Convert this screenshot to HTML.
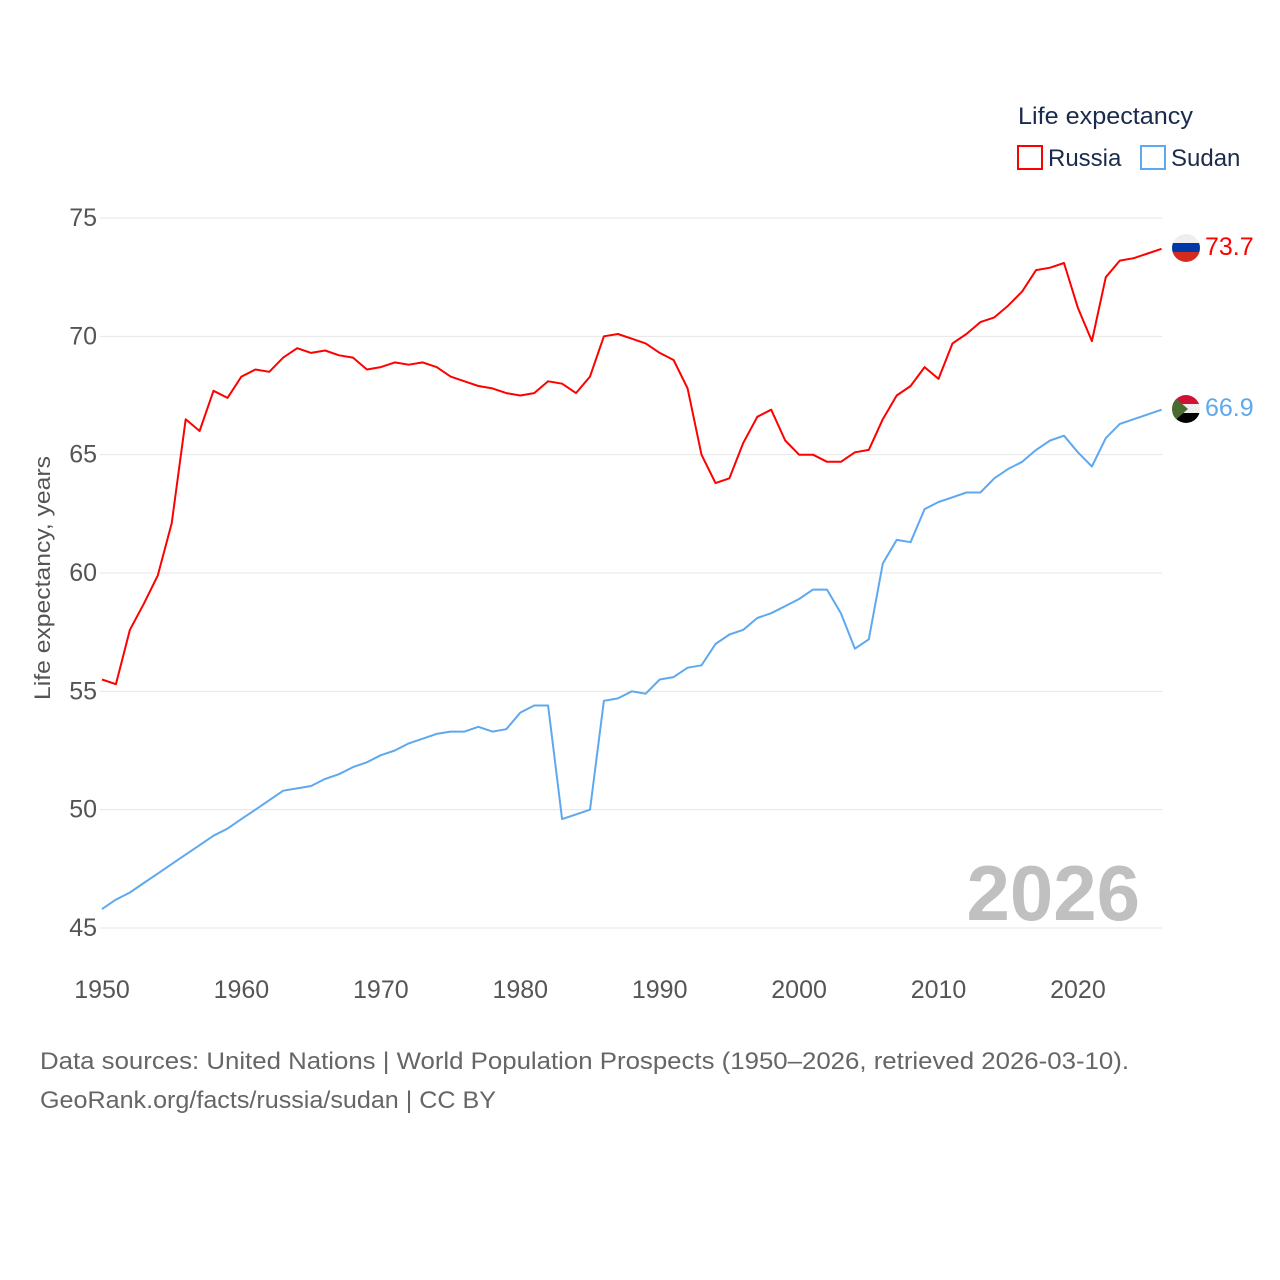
<!DOCTYPE html>
<html><head><meta charset="utf-8">
<style>
body{margin:0;background:#fff;}
svg{display:block;font-family:"Liberation Sans",sans-serif;}
</style></head>
<body>
<svg id="chart" width="1280" height="1280" viewBox="0 0 1280 1280">
<defs>
<clipPath id="cr"><circle cx="1186" cy="248" r="14"/></clipPath>
<clipPath id="cs"><circle cx="1186" cy="409" r="14"/></clipPath>
</defs>
<g id="grid"></g>
<g id="yticks"></g>
<g id="xticks"></g>
<text transform="translate(50,578) rotate(-90)" text-anchor="middle" font-size="22" fill="#555" textLength="244" lengthAdjust="spacingAndGlyphs">Life expectancy, years</text>
<text x="1140" y="920" text-anchor="end" font-size="78" font-weight="bold" fill="#c0c0c0">2026</text>
<g id="series"></g>
<g>
<text x="1018" y="124" font-size="24" fill="#1a2b4c" textLength="175" lengthAdjust="spacingAndGlyphs">Life expectancy</text>
<rect x="1018" y="146" width="24" height="23" fill="none" stroke="#ff0000" stroke-width="2"/>
<text x="1048" y="166" font-size="24" fill="#1a2b4c">Russia</text>
<rect x="1141" y="146" width="24" height="23" fill="none" stroke="#5ea8f0" stroke-width="2"/>
<text x="1171" y="166" font-size="24" fill="#1a2b4c">Sudan</text>
</g>
<g clip-path="url(#cr)">
<rect x="1172" y="234" width="28" height="10" fill="#eee"/><rect x="1172" y="243" width="28" height="10" fill="#0039a6"/><rect x="1172" y="252" width="28" height="10" fill="#d52b1e"/>
</g>
<g clip-path="url(#cs)">
<rect x="1172" y="395" width="28" height="10" fill="#d21034"/><rect x="1172" y="404" width="28" height="10" fill="#eee"/><rect x="1172" y="413" width="28" height="10" fill="#000"/><polygon points="1172,395 1188,409 1172,423" fill="#4a6b2f"/>
</g>
<text x="1205" y="255" font-size="25" fill="#ff0000">73.7</text>
<text x="1205" y="416" font-size="25" fill="#5ea8f0">66.9</text>
<text x="40" y="1069" font-size="24" fill="#666" textLength="1089" lengthAdjust="spacingAndGlyphs">Data sources: United Nations | World Population Prospects (1950–2026, retrieved 2026-03-10).</text>
<text x="40" y="1108" font-size="24" fill="#666" textLength="456" lengthAdjust="spacingAndGlyphs">GeoRank.org/facts/russia/sudan | CC BY</text>
</svg>
<script>
const years = [];
for (let y = 1950; y <= 2026; y++) years.push(y);
const russia = [55.5,55.3,57.6,58.7,59.9,62.1,66.5,66.0,67.7,67.4,68.3,68.6,68.5,69.1,69.5,69.3,69.4,69.2,69.1,68.6,68.7,68.9,68.8,68.9,68.7,68.3,68.1,67.9,67.8,67.6,67.5,67.6,68.1,68.0,67.6,68.3,70.0,70.1,69.9,69.7,69.3,69.0,67.8,65.0,63.8,64.0,65.5,66.6,66.9,65.6,65.0,65.0,64.7,64.7,65.1,65.2,66.5,67.5,67.9,68.7,68.2,69.7,70.1,70.6,70.8,71.3,71.9,72.8,72.9,73.1,71.2,69.8,72.5,73.2,73.3,73.5,73.7];
const sudan = [45.8,46.2,46.5,46.9,47.3,47.7,48.1,48.5,48.9,49.2,49.6,50.0,50.4,50.8,50.9,51.0,51.3,51.5,51.8,52.0,52.3,52.5,52.8,53.0,53.2,53.3,53.3,53.5,53.3,53.4,54.1,54.4,54.4,49.6,49.8,50.0,54.6,54.7,55.0,54.9,55.5,55.6,56.0,56.1,57.0,57.4,57.6,58.1,58.3,58.6,58.9,59.3,59.3,58.3,56.8,57.2,60.4,61.4,61.3,62.7,63.0,63.2,63.4,63.4,64.0,64.4,64.7,65.2,65.6,65.8,65.1,64.5,65.7,66.3,66.5,66.7,66.9];
const yTicks = [45,50,55,60,65,70,75];
const xTicks = [1950,1960,1970,1980,1990,2000,2010,2020];

const NS = "http://www.w3.org/2000/svg";
const X0 = 102, X1 = 1161.6, Y0 = 928, Y1 = 218;
const xs = v => X0 + (v - 1950) / (2026 - 1950) * (X1 - X0);
const ys = v => Y0 - (v - 45) / (75 - 45) * (Y0 - Y1);
function mk(tag, attrs, parent) {
  const e = document.createElementNS(NS, tag);
  for (const k in attrs) e.setAttribute(k, attrs[k]);
  parent.appendChild(e);
  return e;
}
const grid = document.getElementById('grid');
const yt = document.getElementById('yticks');
yTicks.forEach(t => {
  const l = mk('line', {x1: 100, x2: 1162, y1: ys(t), y2: ys(t), stroke: '#e6e6e6', 'stroke-width': 1}, grid);
  
  
  const tx = mk('text', {x: 97, y: ys(t) + 8, 'text-anchor': 'end', 'font-size': 25, fill: '#555'}, yt);
  tx.textContent = t;
  
  
});
const xt = document.getElementById('xticks');
xTicks.forEach(t => {
  const tx = mk('text', {x: xs(t), y: 998, 'text-anchor': 'middle', 'font-size': 25, fill: '#555'}, xt);
  tx.textContent = t;
  
  
});
const sg = document.getElementById('series');
function line(vals, color, name) {
  const d = vals.map((v, i) => (i ? 'L' : 'M') + xs(years[i]).toFixed(1) + ',' + ys(v).toFixed(1)).join('');
  const p = mk('path', {d: d, fill: 'none', stroke: color, 'stroke-width': 2, 'stroke-linejoin': 'round'}, sg);
  
  
}
line(sudan, '#5ea8f0', 'sudan-line');
line(russia, '#ff0000', 'russia-line');
</script>
</body></html>
